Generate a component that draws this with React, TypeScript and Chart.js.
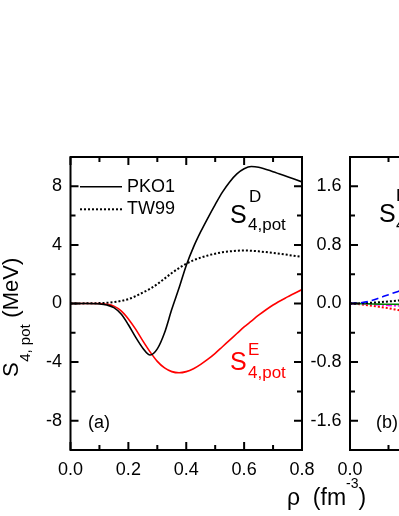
import React, { useEffect, useRef } from "react";
import { Chart, registerables } from "chart.js";
Chart.register(...registerables);

const FONT = '"Liberation Sans", Arial, Helvetica, sans-serif';

// ---- Panel (a) data ----
const rhoA = [0, 0.05, 0.1, 0.125, 0.15, 0.175, 0.2, 0.225, 0.25, 0.275, 0.3, 0.325, 0.35, 0.375, 0.4, 0.425, 0.45, 0.475, 0.5, 0.525, 0.55, 0.575, 0.6, 0.625, 0.65, 0.7, 0.75, 0.8];
const pko1Direct = [0, 0, -0.03, -0.1, -0.28, -0.72, -1.45, -2.3, -3.05, -3.52, -3.1, -2.0, -0.4, 1.05, 2.6, 3.85, 4.9, 5.85, 6.75, 7.6, 8.3, 8.85, 9.2, 9.35, 9.3, 9.0, 8.65, 8.3];
const pko1Exchange = [0, 0, 0, -0.05, -0.18, -0.5, -1.05, -1.75, -2.55, -3.3, -3.95, -4.4, -4.65, -4.73, -4.65, -4.45, -4.15, -3.8, -3.4, -2.95, -2.5, -2.05, -1.6, -1.2, -0.8, -0.1, 0.45, 0.95];
const tw99Direct = [0, 0.01, 0.03, 0.05, 0.1, 0.18, 0.3, 0.5, 0.75, 1.0, 1.32, 1.7, 2.08, 2.42, 2.72, 2.95, 3.13, 3.28, 3.4, 3.5, 3.56, 3.6, 3.62, 3.6, 3.56, 3.45, 3.32, 3.18];

// ---- Panel (b) data (only the left edge is visible) ----
const rhoB = [0, 0.025, 0.05, 0.075, 0.1, 0.125, 0.15];
const bBlueDash = [0, 0.008, 0.03, 0.075, 0.12, 0.165, 0.21];
const bBlackDot = [0, 0.002, 0.008, 0.017, 0.028, 0.04, 0.05];
const bGreen = [0, -0.002, -0.005, -0.008, -0.01, -0.012, -0.014];
const bMagenta = [0, -0.004, -0.01, -0.018, -0.026, -0.034, -0.04];
const bRedDot = [0, -0.01, -0.025, -0.045, -0.065, -0.09, -0.115];

// ---- Ticks ----
const xTicksA = [0, 0.2, 0.4, 0.6, 0.8];
const xMinorA = [0.1, 0.3, 0.5, 0.7];
const xTicksB = [0, 0.2, 0.4, 0.6];
const xMinorB = [0.1, 0.3, 0.5];
const yTicksA = [-8, -4, 0, 4, 8];
const yMinorA = [-10, -6, -2, 2, 6, 10];
const yTicksB = [-1.6, -0.8, 0, 0.8, 1.6];
const yMinorB = [-2, -1.2, -0.4, 0.4, 1.2, 2];

const pts = (xs: number[], ys: number[]) => xs.map((x, i) => ({ x, y: ys[i] }));

function txt(ctx: CanvasRenderingContext2D, s: string, x: number, y: number, size: number, color = "#000", align: CanvasTextAlign = "left", base: CanvasTextBaseline = "alphabetic") {
  ctx.font = `${size}px ${FONT}`;
  ctx.fillStyle = color;
  ctx.textAlign = align;
  ctx.textBaseline = base;
  ctx.fillText(s, x, y);
  return ctx.measureText(s).width;
}

function framePlugin(xMajor: number[], xMinor: number[], yMajor: number[], yMinor: number[]) {
  return {
    id: "frame",
    afterDatasetsDraw(chart: any) {
      const { ctx, chartArea: a, scales } = chart;
      const sx = scales.x, sy = scales.y;
      ctx.save();
      ctx.strokeStyle = "#000";
      ctx.lineWidth = 2;
      ctx.strokeRect(a.left, a.top, a.right - a.left, a.bottom - a.top);
      ctx.beginPath();
      const majL = 8, minL = 5;
      const xt = (v: number, l: number) => {
        const p = sx.getPixelForValue(v);
        ctx.moveTo(p, a.bottom); ctx.lineTo(p, a.bottom - l);
        ctx.moveTo(p, a.top); ctx.lineTo(p, a.top + l);
      };
      const yt = (v: number, l: number) => {
        const p = sy.getPixelForValue(v);
        ctx.moveTo(a.left, p); ctx.lineTo(a.left + l, p);
        ctx.moveTo(a.right, p); ctx.lineTo(a.right - l, p);
      };
      xMajor.forEach((v) => xt(v, majL));
      xMinor.forEach((v) => xt(v, minL));
      yMajor.forEach((v) => yt(v, majL));
      yMinor.forEach((v) => yt(v, minL));
      ctx.stroke();
      ctx.restore();
    },
  };
}

const annotA = {
  id: "annotA",
  afterDraw(chart: any) {
    const ctx: CanvasRenderingContext2D = chart.ctx;
    ctx.save();
    // legend
    ctx.strokeStyle = "#000";
    ctx.lineWidth = 1.6;
    ctx.beginPath(); ctx.moveTo(80, 186.7); ctx.lineTo(122, 186.7); ctx.stroke();
    ctx.setLineDash([2, 2]);
    ctx.lineWidth = 2;
    ctx.beginPath(); ctx.moveTo(80, 209.3); ctx.lineTo(122, 209.3); ctx.stroke();
    ctx.setLineDash([]);
    txt(ctx, "PKO1", 127, 187, 18, "#000", "left", "middle");
    txt(ctx, "TW99", 127, 209.5, 18, "#000", "left", "middle");
    // S^D_{4,pot}
    txt(ctx, "S", 230, 223, 25);
    txt(ctx, "D", 249, 202, 17);
    txt(ctx, "4,pot", 248, 229.5, 17);
    // S^E_{4,pot}
    txt(ctx, "S", 230, 370, 25, "#ff0000");
    txt(ctx, "E", 248, 355, 17, "#ff0000");
    txt(ctx, "4,pot", 248, 377.5, 17, "#ff0000");
    // (a)
    txt(ctx, "(a)", 88, 428, 18);
    // x title
    let x = 287;
    x += txt(ctx, "\u03C1", x, 505, 23);
    x += txt(ctx, "  (fm", x, 505, 23);
    x += txt(ctx, "-3", x, 488, 14);
    txt(ctx, ")", x, 505, 23);
    // y title
    ctx.translate(18.3, 377);
    ctx.rotate(-Math.PI / 2);
    let p = 0;
    p += txt(ctx, "S", p, 0, 22);
    p += txt(ctx, "4, pot", p + 0.5, 11.5, 15) + 1;
    txt(ctx, " (MeV)", p, 0, 22);
    ctx.restore();
  },
};

const annotB = {
  id: "annotB",
  afterDraw(chart: any) {
    const ctx: CanvasRenderingContext2D = chart.ctx;
    ctx.save();
    txt(ctx, "S", 379, 222, 25);
    txt(ctx, "E", 396, 201, 17);
    txt(ctx, "4,pot", 396, 229.5, 17);
    txt(ctx, "(b)", 376, 428, 18);
    ctx.restore();
  },
};

function axes(xMax: number, xTicks: number[], yMin: number, yMax: number, yTicks: number[], yFmt: (v: number) => string, yWidth: number) {
  return {
    x: {
      type: "linear",
      min: 0,
      max: xMax,
      afterBuildTicks: (s: any) => { s.ticks = xTicks.map((v) => ({ value: v })); },
      afterFit: (s: any) => { s.height = 40; },
      ticks: { callback: (v: any) => Number(v).toFixed(1), font: { family: FONT, size: 18 }, color: "#000", padding: 9, maxRotation: 0, autoSkip: false },
      grid: { display: false, drawTicks: false },
      border: { display: false },
    },
    y: {
      type: "linear",
      min: yMin,
      max: yMax,
      afterBuildTicks: (s: any) => { s.ticks = yTicks.map((v) => ({ value: v })); },
      afterFit: (s: any) => { s.width = yWidth; },
      ticks: { callback: (v: any) => yFmt(Number(v)), font: { family: FONT, size: 18 }, color: "#000", padding: 8.5, autoSkip: false },
      grid: { display: false, drawTicks: false },
      border: { display: false },
    },
  };
}

const lineDs = (label: string, data: any[], color: string, width: number, dash: number[] = []) => ({
  label,
  data,
  borderColor: color,
  backgroundColor: color,
  borderWidth: width,
  borderDash: dash,
  pointRadius: 0,
  fill: false,
  cubicInterpolationMode: "monotone",
});

export default function App() {
  const refA = useRef<HTMLCanvasElement>(null);
  const refB = useRef<HTMLCanvasElement>(null);

  useEffect(() => {
    const chA = new Chart(refA.current as HTMLCanvasElement, {
      type: "line",
      data: {
        datasets: [
          lineDs("TW99", pts(rhoA, tw99Direct), "#000", 2, [2, 2]),
          lineDs("PKO1 direct", pts(rhoA, pko1Direct), "#000", 1.6),
          lineDs("PKO1 exchange", pts(rhoA, pko1Exchange), "#ff0000", 1.6),
        ] as any,
      },
      options: {
        responsive: false,
        animation: false,
        devicePixelRatio: 1,
        layout: { padding: { left: 0, right: 97, top: 157, bottom: 26 } },
        plugins: { legend: { display: false }, tooltip: { enabled: false } },
        scales: axes(0.8, xTicksA, -10, 10, yTicksA, (v) => String(v), 70.5) as any,
      },
      plugins: [framePlugin(xTicksA, xMinorA, yTicksA, yMinorA), annotA],
    });
    const chB = new Chart(refB.current as HTMLCanvasElement, {
      type: "line",
      data: {
        datasets: [
          lineDs("blue", pts(rhoB, bBlueDash), "#0000ff", 1.6, [7, 4]),
          lineDs("black", pts(rhoB, bBlackDot), "#000", 2, [2, 2]),
          lineDs("green", pts(rhoB, bGreen), "#008000", 1.6),
          lineDs("magenta", pts(rhoB, bMagenta), "#ff00ff", 1.6, [6, 2, 2, 2]),
          lineDs("red", pts(rhoB, bRedDot), "#ff0000", 2, [2, 2]),
        ] as any,
      },
      options: {
        responsive: false,
        animation: false,
        devicePixelRatio: 1,
        layout: { padding: { left: 0, right: 119, top: 157, bottom: 26 } },
        plugins: { legend: { display: false }, tooltip: { enabled: false } },
        scales: axes(0.6, xTicksB, -2, 2, yTicksB, (v) => v.toFixed(1), 350) as any,
      },
      plugins: [framePlugin(xTicksB, xMinorB, yTicksB, yMinorB), annotB],
    });
    return () => { chA.destroy(); chB.destroy(); };
  }, []);

  return (
    <div style={{ position: "fixed", left: 0, top: 0, width: 399, height: 516, overflow: "hidden", background: "#fff" }}>
      <canvas ref={refA} width={399} height={516} style={{ position: "absolute", left: 0, top: 0, width: 399, height: 516 }} />
      <canvas ref={refB} width={700} height={516} style={{ position: "absolute", left: 0, top: 0, width: 700, height: 516 }} />
    </div>
  );
}
